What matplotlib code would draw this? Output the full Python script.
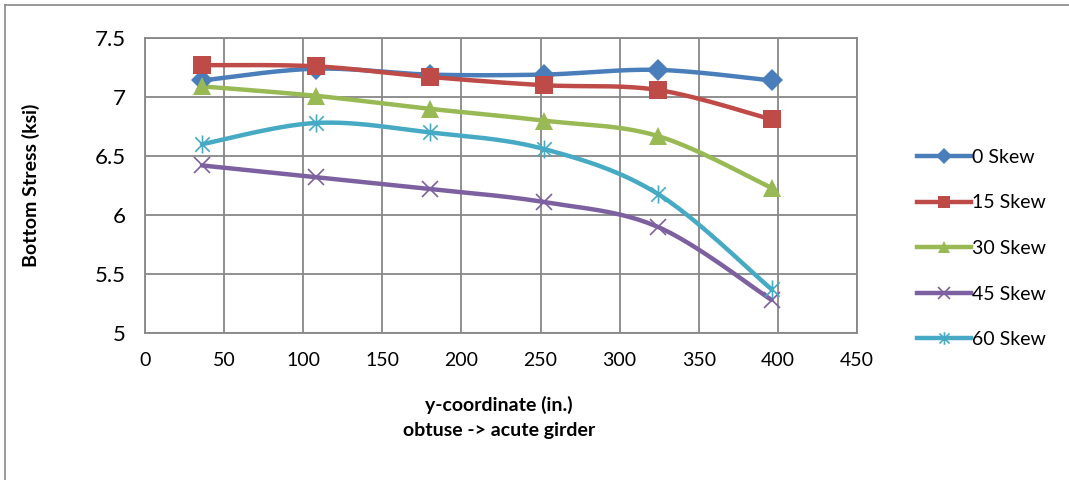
import numpy as np
import matplotlib.pyplot as plt
from matplotlib.path import Path
from matplotlib.lines import Line2D

plt.rcParams['font.family'] = ['Lato', 'DejaVu Sans']

y_coord = [36, 108, 180, 252, 324, 396]
skew_0 = [7.14, 7.24, 7.19, 7.19, 7.23, 7.14]
skew_15 = [7.27, 7.26, 7.17, 7.10, 7.06, 6.81]
skew_30 = [7.09, 7.01, 6.90, 6.80, 6.67, 6.23]
skew_45 = [6.42, 6.32, 6.22, 6.11, 5.90, 5.28]
skew_60 = [6.60, 6.78, 6.70, 6.56, 6.18, 5.37]
labels = ['0 Skew', '15 Skew', '30 Skew', '45 Skew', '60 Skew']
colors = ['#4A7EBB', '#BE4B48', '#98B954', '#7D60A0', '#46AAC5']

# excel style asterisk marker: x plus vertical bar
star = Path([(-1, -1), (1, 1), (-1, 1), (1, -1), (0, -1.25), (0, 1.25)],
            [Path.MOVETO, Path.LINETO, Path.MOVETO, Path.LINETO, Path.MOVETO, Path.LINETO])

styles = [dict(marker='D', ms=11, mew=0),
          dict(marker='s', ms=13, mew=0),
          dict(marker='^', ms=13, mew=0),
          dict(marker='x', ms=12, mew=1.2, mfc='none'),
          dict(marker=star, ms=13, mew=1.2, mfc='none')]


def smooth(x, y, n=30):
    # bezier smoothing like excel's smoothed line
    x = np.asarray(x, float)
    y = np.asarray(y, float)
    px = np.concatenate([[x[0]], x, [x[-1]]])
    py = np.concatenate([[y[0]], y, [y[-1]]])
    outx, outy = [], []
    t = np.linspace(0, 1, n)
    for i in range(1, len(px) - 2):
        p0 = np.array([px[i], py[i]])
        p3 = np.array([px[i + 1], py[i + 1]])
        c1 = p0 + (np.array([px[i + 1], py[i + 1]]) - np.array([px[i - 1], py[i - 1]])) / 6
        c2 = p3 - (np.array([px[i + 2], py[i + 2]]) - np.array([px[i], py[i]])) / 6
        b = ((1 - t) ** 3)[:, None] * p0 + (3 * (1 - t) ** 2 * t)[:, None] * c1 \
            + (3 * (1 - t) * t ** 2)[:, None] * c2 + (t ** 3)[:, None] * p3
        outx.extend(b[:, 0])
        outy.extend(b[:, 1])
    return outx, outy


fig = plt.figure(figsize=(10.69, 4.8), dpi=100)
ax = fig.add_axes([145 / 1069, 1 - 333 / 480, 712 / 1069, 295 / 480])

series = [skew_0, skew_15, skew_30, skew_45, skew_60]
handles = []
for vals, lab, col, st in zip(series, labels, colors, styles):
    sx, sy = smooth(y_coord, vals)
    ax.plot(sx, sy, color=col, lw=3.2, solid_capstyle='round', zorder=3)
    ax.plot(y_coord, vals, ls='none', color=col, mfc=st.get('mfc', col), mec=col,
            marker=st['marker'], ms=st['ms'], mew=st['mew'], zorder=4)
    handles.append(Line2D([], [], color=col, lw=3.2, marker=st['marker'], ms=st['ms'] * 0.7,
                          mew=st['mew'], mec=col, mfc=st.get('mfc', col), label=lab))

ax.set_xlim(0, 450)
ax.set_ylim(5, 7.5)
ax.set_xticks(np.arange(0, 451, 50))
ax.set_yticks(np.arange(5, 7.51, 0.5))
ax.set_yticklabels(['5', '5.5', '6', '6.5', '7', '7.5'])
ax.grid(True, color='#878787', lw=1.3)
ax.set_axisbelow(True)
for s in ax.spines.values():
    s.set_color('#878787')
    s.set_linewidth(1.3)
ax.tick_params(length=0, labelsize=14)
ax.tick_params(axis='y', labelsize=16, pad=14)
ax.tick_params(axis='x', pad=14)

ax.set_ylabel('Bottom Stress (ksi)', fontsize=14, fontweight='bold')
ax.yaxis.set_label_coords(-0.148, 0.5)
ax.set_xlabel('y-coordinate (in.)\nobtuse -> acute girder', fontsize=14,
              fontweight='bold', linespacing=1.6)
ax.xaxis.set_label_coords(0.497, -0.212)

fig.legend(handles=handles, loc='upper left', bbox_to_anchor=(909 / 1069, 1 - 141 / 480),
           frameon=False, fontsize=14, handlelength=2.8, handletextpad=0.05,
           labelspacing=1.47, borderaxespad=0)

# chart-area border (only top and left are visible in the crop)
fig.add_artist(Line2D([5 / 1069, 1], [1 - 5 / 480, 1 - 5 / 480], color='#878787', lw=1.2))
fig.add_artist(Line2D([5 / 1069, 5 / 1069], [0, 1 - 5 / 480], color='#878787', lw=1.2))

fig.savefig('out.png', dpi=100)
